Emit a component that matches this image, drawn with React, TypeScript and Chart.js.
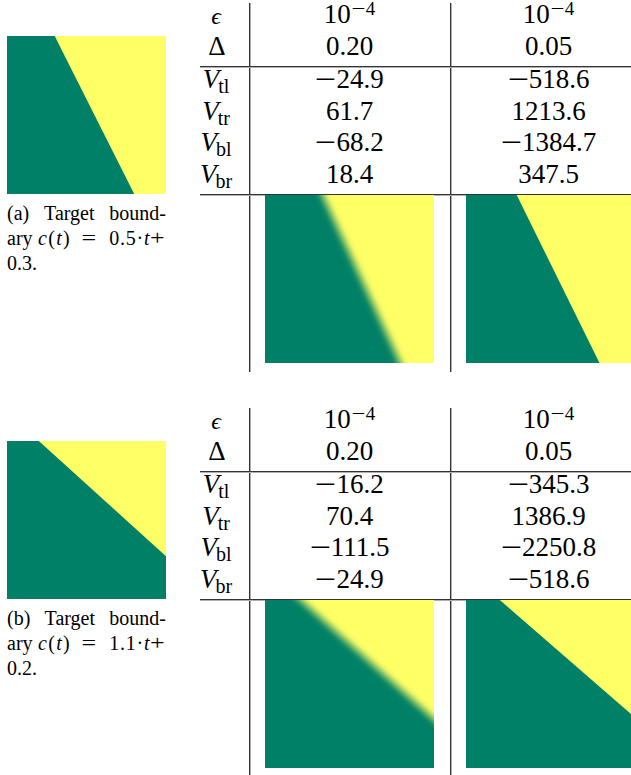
import React, { useEffect, useRef } from 'react';
import { Chart, registerables } from 'chart.js';

Chart.register(...registerables);

// ---------------- data ----------------
const rowKeys = ['tl', 'tr', 'bl', 'br'];
const epsilonExponents = [-4, -4];
const deltaValues = ['0.20', '0.05'];

const vTlA = [-24.9, -518.6];
const vTrA = [61.7, 1213.6];
const vBlA = [-68.2, -1384.7];
const vBrA = [18.4, 347.5];

const vTlB = [-16.2, -345.3];
const vTrB = [70.4, 1386.9];
const vBlB = [-111.5, -2250.8];
const vBrB = [-24.9, -518.6];

const captionSlopes = ['0.5', '1.1'];
const captionIntercepts = ['0.3', '0.2'];

// boundary polylines: x = c(t), t runs downward (0 = top, 1 = bottom)
const targetBoundaryA = [{ x: 0, y: 0 }, { x: 0.30, y: 0 }, { x: 0.80, y: 1 }, { x: 1, y: 1 }];
const learnedBoundaryA020 = [{ x: 0, y: 0 }, { x: 0.34, y: 0 }, { x: 0.80, y: 1 }, { x: 1, y: 1 }];
const learnedBoundaryA005 = [{ x: 0, y: 0 }, { x: 0.30, y: 0 }, { x: 0.79, y: 1 }, { x: 1, y: 1 }];

const targetBoundaryB = [{ x: 0, y: 0 }, { x: 0.20, y: 0 }, { x: 1, y: 0.73 }];
const learnedBoundaryB020 = [{ x: 0, y: 0 }, { x: 0.21, y: 0 }, { x: 1, y: 0.71 }];
const learnedBoundaryB005 = [{ x: 0, y: 0 }, { x: 0.20, y: 0 }, { x: 1, y: 0.70 }];

const wholeSquare = [{ x: 0, y: 0 }, { x: 1, y: 0 }];

// ---------------- styles ----------------
const GREEN = 'rgb(0,128,102)';
const YELLOW = 'rgb(255,255,102)';
const SERIF = '"Liberation Serif", "DejaVu Serif", serif';
const LINE = '#333';
const BLUR_PX = 18;

function summer(s: number) {
  return `rgb(${Math.round(255 * s)},${Math.round(128 + 127 * s)},102)`;
}

type Pt = { x: number; y: number };

function BoundaryChart({ boundary, blurred, left, top, width, height }: {
  boundary: Pt[]; blurred: boolean; left: number; top: number; width: number; height: number;
}) {
  const ref = useRef<HTMLCanvasElement>(null);
  useEffect(() => {
    const canvas = ref.current;
    if (!canvas) return;
    const paint = (solid: string) => (ctx: any) => {
      if (!blurred) return solid;
      try {
        const chart = ctx.chart;
        const area = chart.chartArea;
        const xs = chart.scales && chart.scales.x;
        const ys = chart.scales && chart.scales.y;
        if (!area || !xs || !ys) return solid;
        const a = boundary[1];
        const b = boundary[2];
        const x1 = xs.getPixelForValue(a.x), y1 = ys.getPixelForValue(a.y);
        const x2 = xs.getPixelForValue(b.x), y2 = ys.getPixelForValue(b.y);
        if (![x1, y1, x2, y2].every(Number.isFinite)) return solid;
        const dx = x2 - x1, dy = y2 - y1;
        const len = Math.hypot(dx, dy) || 1;
        const nx = dy / len, ny = -dx / len;
        const h = BLUR_PX / 2;
        const g = chart.ctx.createLinearGradient(x1 - nx * h, y1 - ny * h, x1 + nx * h, y1 + ny * h);
        const stops: [number, number][] = [[0, 0], [0.2, 0.06], [0.35, 0.25], [0.5, 0.5], [0.65, 0.75], [0.8, 0.94], [1, 1]];
        stops.forEach(([p, s]) => g.addColorStop(p, summer(s)));
        return g;
      } catch (e) {
        return solid;
      }
    };
    const chart = new Chart(canvas, {
      type: 'line',
      data: {
        datasets: [
          {
            label: 'class 0',
            data: boundary,
            backgroundColor: paint(GREEN),
            borderColor: 'rgba(0,0,0,0)',
            borderWidth: 0,
            pointRadius: 0,
            tension: 0,
            fill: { value: 1 } as any,
          },
          {
            label: 'class 1',
            data: wholeSquare,
            backgroundColor: paint(YELLOW),
            borderColor: 'rgba(0,0,0,0)',
            borderWidth: 0,
            pointRadius: 0,
            tension: 0,
            fill: { value: 1 } as any,
          },
        ],
      },
      options: {
        animation: false,
        responsive: false,
        events: [],
        layout: { padding: 0 },
        scales: {
          x: { type: 'linear', min: 0, max: 1, display: false },
          y: { type: 'linear', min: 0, max: 1, reverse: true, display: false },
        },
        plugins: { legend: { display: false }, tooltip: { enabled: false }, title: { display: false } },
      },
    } as any);
    chart.update('none');
    return () => chart.destroy();
  }, [boundary, blurred]);
  return (
    <canvas
      ref={ref}
      width={width}
      height={height}
      style={{ position: 'absolute', left, top, width, height, display: 'block' }}
    />
  );
}

function TextAt({ cx, left, baseline, size, lh, width = 200, align = 'center', children, style }: any) {
  const top = baseline - lh / 2 - 0.3375 * size;
  const s: any = {
    position: 'absolute',
    top,
    lineHeight: lh + 'px',
    fontSize: size,
    whiteSpace: 'nowrap',
    width,
    ...style,
  };
  if (align === 'center') {
    s.left = cx - width / 2;
    s.textAlign = 'center';
  } else {
    s.left = left;
  }
  return <div style={s}>{children}</div>;
}

function Minus({ scale = 1.4 }: { scale?: number }) {
  return (
    <span style={{ display: 'inline-block', width: '0.78em', textAlign: 'center', transform: `scaleX(${scale})` }}>
      −
    </span>
  );
}

function Num({ value }: { value: number }) {
  return (
    <>
      {value < 0 ? <Minus /> : null}
      {Math.abs(value).toFixed(1)}
    </>
  );
}

function HLine({ x1, x2, y }: any) {
  return <div style={{ position: 'absolute', left: x1, top: y, width: x2 - x1, height: 1, background: LINE, boxShadow: '0 1px 0 #b0b0b0' }} />;
}
function VLine({ x, y1, y2 }: any) {
  return <div style={{ position: 'absolute', left: x, top: y1, width: 1, height: y2 - y1, background: LINE, boxShadow: '1px 0 0 #b0b0b0' }} />;
}

function Piece({ left, right, width, center, children, style }: any) {
  const s: any = { position: 'absolute', top: 0, whiteSpace: 'nowrap', ...style };
  if (center !== undefined) {
    s.left = center - width / 2;
    s.width = width;
    s.textAlign = 'center';
  } else if (right !== undefined) {
    s.right = right;
  } else {
    s.left = left;
  }
  return <span style={s}>{children}</span>;
}

function Panel({ off, letter, idx, vTl, vTr, vBl, vBr, target, learned020, learned005 }: any) {
  const colCenters = [349.5, 548.5];
  const labelCx = 216;
  const F = 27;
  const L = 31;
  const rowBase = [24, 55.5, 89, 120.5, 152, 183.5].map((b) => b + off);
  const vRows = [vTl, vTr, vBl, vBr];
  const capF = 20;
  const capL = 25;
  const op = (ch: string) => (
    <span style={{ display: 'inline-block', width: '0.78em', textAlign: 'center', transform: 'scaleX(1.3)' }}>{ch}</span>
  );
  return (
    <>
      <BoundaryChart boundary={target} blurred={false} left={7} top={36 + off} width={159} height={158} />

      <div
        style={{
          position: 'absolute', left: 7, width: 159, top: 220 + off - capL / 2 - 0.3375 * capF,
          fontSize: capF, lineHeight: capL + 'px', whiteSpace: 'nowrap',
        }}
      >
        <div style={{ display: 'flex', justifyContent: 'space-between', alignItems: 'baseline' }}>
          <span>({letter})</span>
          <span>Target</span>
          <span>bound-</span>
        </div>
        <div style={{ position: 'relative', height: capL }}>
          <Piece left={0}>ary</Piece>
          <Piece left={31} style={{ letterSpacing: 1.3 }}>
            <i>c</i>(<i>t</i>)
          </Piece>
          <Piece center={82} width={20}>{op('=')}</Piece>
          <Piece right={0} style={{ letterSpacing: 0.8 }}>
            {captionSlopes[idx]}·<i>t</i>
            {op('+')}
          </Piece>
        </div>
        <div>{captionIntercepts[idx]}.</div>
      </div>

      <VLine x={249} y1={3 + off} y2={off === 0 ? 372 : 775} />
      <VLine x={450} y1={3 + off} y2={off === 0 ? 372 : 775} />
      <HLine x1={200} x2={631} y={66 + off} />
      <HLine x1={200} x2={631} y={194 + off} />

      <TextAt cx={labelCx} baseline={rowBase[0] + 1} size={24} lh={L} width={60}>
        <i style={{ fontWeight: 'normal' }}>ϵ</i>
      </TextAt>
      <TextAt cx={labelCx + 1} baseline={rowBase[1]} size={F} lh={L} width={60}>
        Δ
      </TextAt>
      {rowKeys.map((k, i) => (
        <TextAt key={k} cx={labelCx} baseline={rowBase[i + 2]} size={F} lh={L} width={60}>
          <i>V</i>
          <span style={{ fontSize: 20, position: 'relative', top: 5, marginLeft: -1 }}>{k}</span>
        </TextAt>
      ))}

      {colCenters.map((cx, c) => (
        <React.Fragment key={c}>
          <TextAt cx={cx} baseline={rowBase[0]} size={F} lh={L}>
            10
            <span style={{ fontSize: 19, position: 'relative', top: -8 }}>
              <Minus scale={1.3} />
              {Math.abs(epsilonExponents[c])}
            </span>
          </TextAt>
          <TextAt cx={cx} baseline={rowBase[1]} size={F} lh={L}>
            {deltaValues[c]}
          </TextAt>
          {vRows.map((arr: number[], r: number) => (
            <TextAt key={r} cx={cx} baseline={rowBase[r + 2]} size={F} lh={L}>
              <Num value={arr[c]} />
            </TextAt>
          ))}
        </React.Fragment>
      ))}

      <BoundaryChart boundary={learned020} blurred={true} left={265} top={195 + off} width={169} height={168} />
      <BoundaryChart boundary={learned005} blurred={false} left={466} top={195 + off} width={169} height={168} />
    </>
  );
}

export default function App() {
  return (
    <div
      style={{
        position: 'absolute', left: 0, top: 0, width: 631, height: 775, overflow: 'hidden',
        background: '#fff', fontFamily: SERIF, color: '#000',
      }}
    >
      <Panel
        off={0} letter="a" idx={0}
        vTl={vTlA} vTr={vTrA} vBl={vBlA} vBr={vBrA}
        target={targetBoundaryA} learned020={learnedBoundaryA020} learned005={learnedBoundaryA005}
      />
      <Panel
        off={405} letter="b" idx={1}
        vTl={vTlB} vTr={vTrB} vBl={vBlB} vBr={vBrB}
        target={targetBoundaryB} learned020={learnedBoundaryB020} learned005={learnedBoundaryB005}
      />
    </div>
  );
}
